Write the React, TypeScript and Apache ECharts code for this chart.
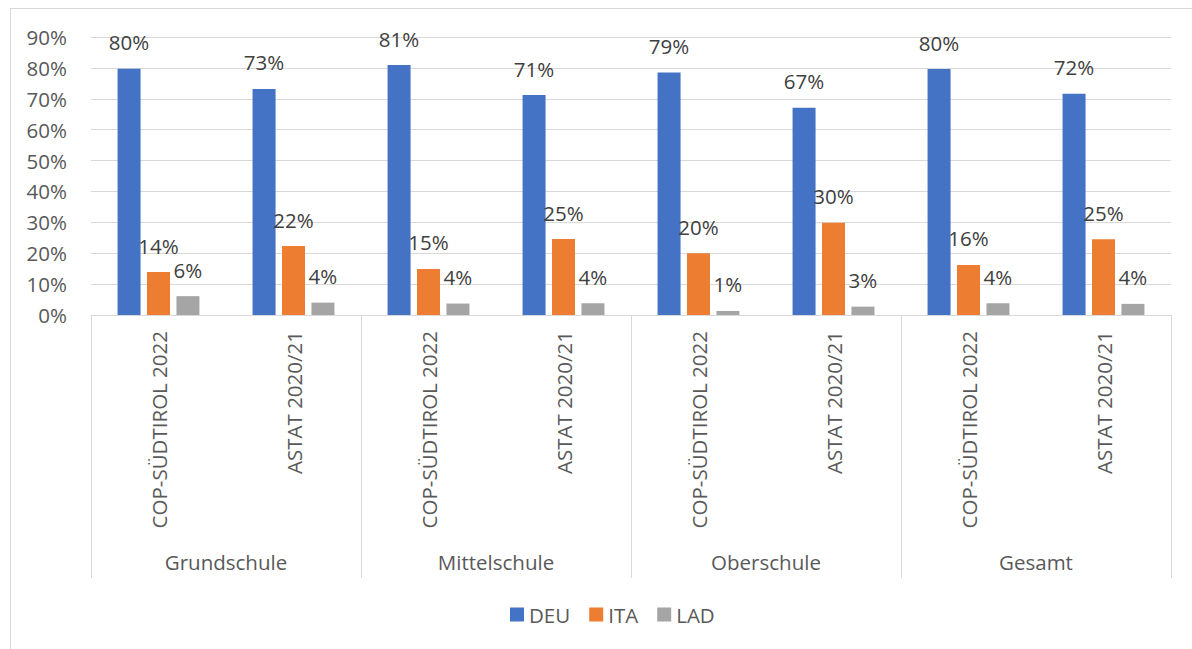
import React, { useEffect, useRef } from "react";
import * as echarts from "echarts";

const groups = ["Grundschule", "Mittelschule", "Oberschule", "Gesamt"];
const sources = ["COP-SÜDTIROL 2022", "ASTAT 2020/21"];
const categories = groups.flatMap(() => sources);
const seriesNames = ["DEU", "ITA", "LAD"];
const deu = [0.797, 0.732, 0.809, 0.712, 0.785, 0.671, 0.796, 0.716];
const ita = [0.139, 0.223, 0.149, 0.246, 0.2, 0.299, 0.162, 0.245];
const lad = [0.061, 0.04, 0.037, 0.038, 0.013, 0.027, 0.038, 0.036];
const colors = ["#4472C4", "#ED7D31", "#A5A5A5"];

const FONT = "'Open Sans', 'Noto Sans', sans-serif";
const FS = 20.5;

export default function App() {
  const ref = useRef<HTMLDivElement>(null);
  useEffect(() => {
    document.body.style.margin = "0";
    document.body.style.overflow = "hidden";
    const chart = echarts.init(ref.current!, null, { renderer: "svg" });
    const values = [deu, ita, lad];
    chart.setOption({
      animation: false,
      textStyle: { fontFamily: FONT },
      grid: { left: 91, right: 21, top: 37, bottom: 334, containLabel: false },
      legend: {
        data: seriesNames,
        left: 505,
        top: 599,
        icon: "rect",
        itemWidth: 14,
        itemHeight: 14,
        itemGap: 19,
        textStyle: { fontSize: FS, color: "#595959", fontFamily: FONT },
      },
      xAxis: [
        {
          type: "category",
          data: categories,
          axisLine: { show: true, lineStyle: { color: "#d9d9d9", width: 1 } },
          axisTick: { show: false },
          axisLabel: {
            rotate: 90,
            margin: 16,
            fontSize: FS,
            color: "#595959",
            fontFamily: FONT,
            interval: 0,
          },
        },
        {
          type: "category",
          data: groups,
          position: "bottom",
          axisLine: { show: false },
          axisTick: { show: true, length: 263, lineStyle: { color: "#d9d9d9", width: 1 } },
          axisLabel: {
            margin: 236,
            fontSize: FS,
            color: "#595959",
            fontFamily: FONT,
            interval: 0,
          },
        },
      ],
      yAxis: {
        type: "value",
        min: 0,
        max: 0.9,
        interval: 0.1,
        axisLine: { show: false },
        axisTick: { show: false },
        splitLine: { lineStyle: { color: "#d9d9d9", width: 1 } },
        axisLabel: {
          margin: 24,
          fontSize: FS,
          color: "#595959",
          fontFamily: FONT,
          formatter: (v: number) => Math.round(v * 100) + "%",
        },
      },
      series: seriesNames.map((name, i) => ({
        name,
        type: "bar",
        xAxisIndex: 0,
        data: values[i],
        barWidth: 23,
        barGap: "28%",
        itemStyle: { color: colors[i] },
        label: {
          show: true,
          position: "top",
          distance: 16,
          fontSize: FS,
          color: "#404040",
          fontFamily: FONT,
          formatter: (p: any) => Math.round(p.value * 100) + "%",
        },
      })),
      graphic: [
        {
          type: "line",
          shape: { x1: 10.5, y1: 8, x2: 10.5, y2: 649 },
          style: { stroke: "#d9d9d9", lineWidth: 1 },
        },
        {
          type: "line",
          shape: { x1: 10, y1: 8.5, x2: 1192, y2: 8.5 },
          style: { stroke: "#d9d9d9", lineWidth: 1 },
        },
      ],
    });
    return () => chart.dispose();
  }, []);
  return <div ref={ref} style={{ width: 1192, height: 649 }} />;
}
